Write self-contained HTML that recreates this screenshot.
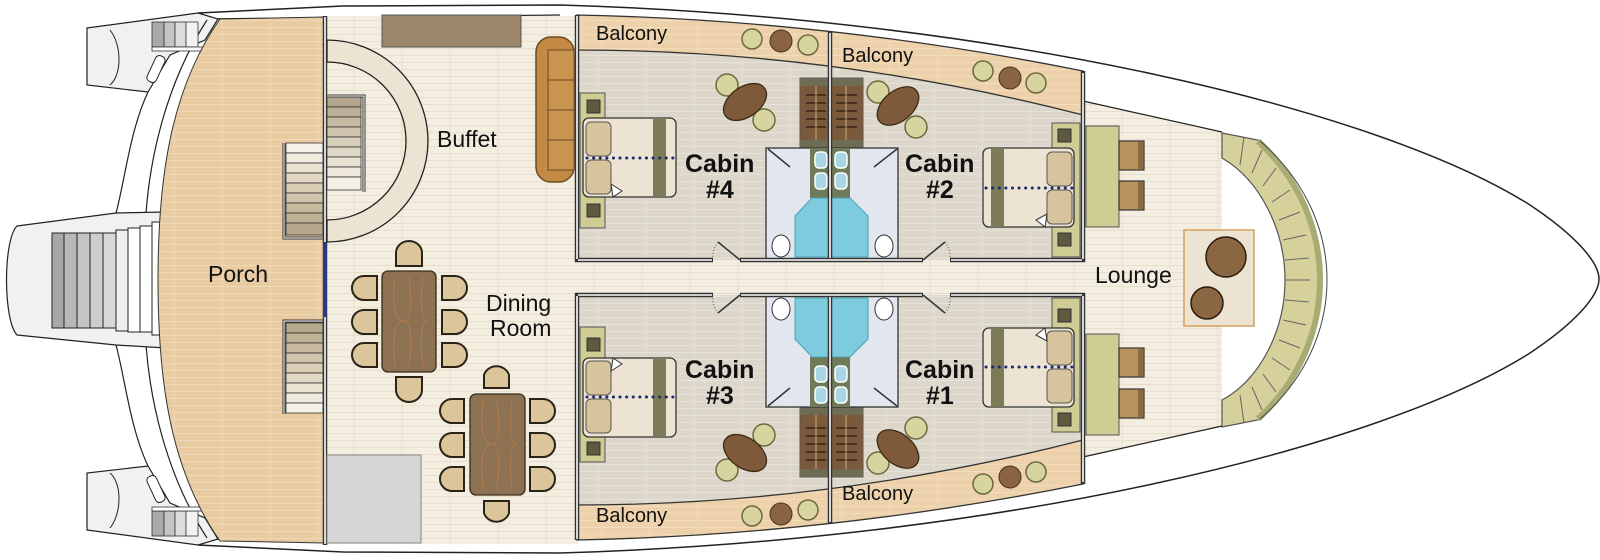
<!DOCTYPE html>
<html><head><meta charset="utf-8"><style>
html,body{margin:0;padding:0;background:#fff;width:1600px;height:560px;overflow:hidden}
svg{display:block}
text{font-family:"Liberation Sans",sans-serif;fill:#111}
</style></head><body>
<svg width="1600" height="560" viewBox="0 0 1600 560" xmlns="http://www.w3.org/2000/svg">
<defs>
<pattern id="cr" width="48" height="7" patternUnits="userSpaceOnUse"><rect width="48" height="7" fill="#f4eee1"/><line x1="0" y1="6.5" x2="48" y2="6.5" stroke="#e7dfcd"/><line x1="18" y1="0" x2="18" y2="7" stroke="#e7dfcd"/></pattern>
<pattern id="pf" width="48" height="7" patternUnits="userSpaceOnUse"><rect width="48" height="7" fill="#e8cba1"/><line x1="0" y1="6.5" x2="48" y2="6.5" stroke="#efd8b6"/><line x1="30" y1="0" x2="30" y2="7" stroke="#efd8b6"/></pattern>
<pattern id="cf" width="48" height="7" patternUnits="userSpaceOnUse"><rect width="48" height="7" fill="#dcd7ca"/><line x1="0" y1="6.5" x2="48" y2="6.5" stroke="#e6e2d8"/><line x1="22" y1="0" x2="22" y2="7" stroke="#e6e2d8"/></pattern>
<pattern id="bf" width="48" height="7" patternUnits="userSpaceOnUse"><rect width="48" height="7" fill="#ecd1aa"/><line x1="0" y1="6.5" x2="48" y2="6.5" stroke="#f2dcbc"/><line x1="26" y1="0" x2="26" y2="7" stroke="#f2dcbc"/></pattern>

<g id="fin">
 <path d="M87,28 L198,13 L218,19 L205,40 L170,55 L148,92 L87,85 Z" fill="#f1f1f1" stroke="#222" stroke-width="1.2"/>
 <path d="M148,92 C130,130 125,180 116,213" fill="none" stroke="#222" stroke-width="1.2"/>
 <path d="M207,20 C165,85 150,160 146,213" fill="none" stroke="#222" stroke-width="1.2"/>
 <path d="M110,30 C122,45 122,75 110,85" fill="none" stroke="#222"/>
 <rect x="152" y="22" width="12" height="25" fill="#aaa" stroke="#333" stroke-width=".8"/>
 <rect x="164" y="22" width="11" height="25" fill="#c4c4c4" stroke="#333" stroke-width=".8"/>
 <rect x="175" y="22" width="11" height="25" fill="#ddd" stroke="#333" stroke-width=".8"/>
 <rect x="186" y="22" width="12" height="25" fill="#f2f2f2" stroke="#333" stroke-width=".8"/>
 <rect x="152" y="47" width="54" height="4" fill="#fff" stroke="#333" stroke-width=".8"/>
 <rect x="151" y="55" width="10" height="28" rx="4" fill="#fff" stroke="#222" transform="rotate(25 156 69)"/>
</g>

<g id="cab">
 <path d="M577,50 Q830,50 1083,115 L1083,260 L577,260 Z" fill="url(#cf)"/>
 <path d="M577,15 Q830,20 1083,71 L1083,115 Q830,50 577,50 Z" fill="url(#bf)" stroke="#333" stroke-width="1.3"/>
 <circle cx="752" cy="39" r="10" fill="#d8d49f" stroke="#6b6a3f" stroke-width="1.5"/>
 <circle cx="781" cy="41" r="11" fill="#8a6344" stroke="#4a3220"/>
 <circle cx="808" cy="45" r="10" fill="#d8d49f" stroke="#6b6a3f" stroke-width="1.5"/>
 <circle cx="983" cy="71" r="10" fill="#d8d49f" stroke="#6b6a3f" stroke-width="1.5"/>
 <circle cx="1010" cy="78" r="11" fill="#8a6344" stroke="#4a3220"/>
 <circle cx="1036" cy="83" r="10" fill="#d8d49f" stroke="#6b6a3f" stroke-width="1.5"/>
 <circle cx="727" cy="85" r="11" fill="#d8d49f" stroke="#6b6a3f" stroke-width="1.5"/>
 <circle cx="764" cy="120" r="11" fill="#d8d49f" stroke="#6b6a3f" stroke-width="1.5"/>
 <ellipse cx="745" cy="102" rx="24" ry="15" transform="rotate(-35 745 102)" fill="#7f5a3a" stroke="#3e2a18" stroke-width="1.3"/>
 <rect x="580" y="93" width="25" height="135" fill="#cfcc94" stroke="#555"/>
 <rect x="587" y="100" width="13" height="13" fill="#5e5a40" stroke="#333"/>
 <rect x="587" y="204" width="13" height="13" fill="#5e5a40" stroke="#333"/>
 <rect x="583" y="118" width="93" height="79" rx="6" fill="#ece3d3" stroke="#333" stroke-width="1.3"/>
 <rect x="653" y="118" width="13" height="79" fill="#7c7b58"/>
 <rect x="586" y="122" width="25" height="34" rx="5" fill="#d8c49c" stroke="#555"/>
 <rect x="586" y="160" width="25" height="34" rx="5" fill="#d8c49c" stroke="#555"/>
 <polygon points="611,184 622,191 613,197" fill="#fff" stroke="#333"/>
 <line x1="587" y1="158" x2="676" y2="158" stroke="#1e2a6e" stroke-width="3" stroke-dasharray="0.1 6.5" stroke-linecap="round"/>
 <circle cx="878" cy="92" r="11" fill="#d8d49f" stroke="#6b6a3f" stroke-width="1.5"/>
 <circle cx="916" cy="127" r="11" fill="#d8d49f" stroke="#6b6a3f" stroke-width="1.5"/>
 <ellipse cx="898" cy="106" rx="24" ry="15" transform="rotate(-40 898 106)" fill="#7f5a3a" stroke="#3e2a18" stroke-width="1.3"/>
 <rect x="1052" y="123" width="28" height="134" fill="#cfcc94" stroke="#555"/>
 <rect x="1058" y="129" width="13" height="13" fill="#5e5a40" stroke="#333"/>
 <rect x="1058" y="233" width="13" height="13" fill="#5e5a40" stroke="#333"/>
 <rect x="983" y="148" width="91" height="79" rx="6" fill="#ece3d3" stroke="#333" stroke-width="1.3"/>
 <rect x="991" y="148" width="13" height="79" fill="#7c7b58"/>
 <rect x="1047" y="152" width="25" height="34" rx="5" fill="#d8c49c" stroke="#555"/>
 <rect x="1047" y="190" width="25" height="34" rx="5" fill="#d8c49c" stroke="#555"/>
 <polygon points="1047,214 1036,220 1045,227" fill="#fff" stroke="#333"/>
 <line x1="986" y1="188" x2="1074" y2="188" stroke="#1e2a6e" stroke-width="3" stroke-dasharray="0.1 6.5" stroke-linecap="round"/>
 <rect x="800" y="78" width="63" height="70" fill="#7a5a3a" stroke="#555"/>
 <rect x="800" y="78" width="63" height="8" fill="#6f6c55"/>
 <rect x="800" y="140" width="63" height="8" fill="#6f6c55"/>
 <g stroke="#2a1a0c" stroke-width="1.2">
  <line x1="806" y1="95" x2="826" y2="95"/><line x1="806" y1="103" x2="826" y2="103"/><line x1="806" y1="111" x2="826" y2="111"/><line x1="806" y1="119" x2="826" y2="119"/><line x1="806" y1="127" x2="826" y2="127"/>
  <line x1="836" y1="95" x2="857" y2="95"/><line x1="836" y1="103" x2="857" y2="103"/><line x1="836" y1="111" x2="857" y2="111"/><line x1="836" y1="119" x2="857" y2="119"/><line x1="836" y1="127" x2="857" y2="127"/>
 </g>
 <line x1="816" y1="86" x2="816" y2="140" stroke="#c9a77a"/><line x1="846" y1="86" x2="846" y2="140" stroke="#c9a77a"/>
 <rect x="766" y="148" width="132" height="111" fill="#e2e6ee" stroke="#333" stroke-width="1.3"/>
 <rect x="810" y="148" width="40" height="50" fill="#6f7a58"/>
 <g fill="#a9d6e4" stroke="#fff" stroke-width="1.5">
  <rect x="815" y="152" width="12" height="16" rx="4"/><rect x="835" y="152" width="12" height="16" rx="4"/>
  <rect x="815" y="173" width="12" height="16" rx="4"/><rect x="835" y="173" width="12" height="16" rx="4"/>
 </g>
 <polygon points="812,198 830,198 830,257 795,257 795,216" fill="#7dcbdc" stroke="#4aa0b5"/>
 <polygon points="830,198 850,198 868,216 868,257 830,257" fill="#7dcbdc" stroke="#4aa0b5"/>
 <ellipse cx="781" cy="246" rx="9" ry="11" fill="#fff" stroke="#333"/>
 <ellipse cx="884" cy="246" rx="9" ry="11" fill="#fff" stroke="#333"/>
 <line x1="768" y1="149" x2="790" y2="167" stroke="#333" stroke-width="1.5"/>
 <line x1="897" y1="149" x2="874" y2="167" stroke="#333" stroke-width="1.5"/>
 <g stroke="#333" stroke-width="4.5">
  <line x1="577" y1="15" x2="577" y2="262"/><line x1="830" y1="31" x2="830" y2="260"/><line x1="1083" y1="71" x2="1083" y2="262"/>
  <line x1="575" y1="260" x2="713" y2="260"/><line x1="740" y1="260" x2="923" y2="260"/><line x1="950" y1="260" x2="1085" y2="260"/>
 </g>
 <g stroke="#fff" stroke-width="1.6">
  <line x1="577" y1="16" x2="577" y2="259"/><line x1="830" y1="33" x2="830" y2="258"/><line x1="1083" y1="73" x2="1083" y2="259"/>
  <line x1="578" y1="260" x2="712" y2="260"/><line x1="741" y1="260" x2="922" y2="260"/><line x1="951" y1="260" x2="1082" y2="260"/>
 </g>
 <line x1="740" y1="260" x2="718" y2="242" stroke="#333" stroke-width="1.5"/>
 <path d="M718,242 Q712,250 713,258" fill="none" stroke="#555" stroke-dasharray="1 2"/>
 <line x1="923" y1="260" x2="945" y2="242" stroke="#333" stroke-width="1.5"/>
 <path d="M945,242 Q951,250 950,258" fill="none" stroke="#555" stroke-dasharray="1 2"/>
</g>
</defs>

<path d="M198,13 L343,6 L560,5 C1000,18 1380,110 1530,205 C1575,235 1599,262 1599,279 C1599,296 1575,323 1530,353 C1380,448 1000,540 560,553 L343,552 L198,545" fill="#fff" stroke="#222" stroke-width="1.5"/>
<path d="M198,19 L560,15" fill="none" stroke="#222" stroke-width="1.2"/>
<path d="M198,539 L560,543" fill="none" stroke="#222" stroke-width="1.2"/>

<rect x="326" y="16" width="252" height="528" fill="url(#cr)"/>
<rect x="577" y="258" width="512" height="42" fill="url(#cr)"/>
<path d="M1083,101 L1222,132 L1222,426 L1083,457 Z" fill="url(#cr)"/>
<path d="M1083,101 L1222,132 M1083,457 L1222,426" stroke="#222" stroke-width="1.2"/>

<use href="#fin"/>
<use href="#fin" transform="matrix(1 0 0 -1 0 558)"/>
<path d="M17,226 L116,213 L166,212 L166,348 L116,345 L17,335 C3,320 3,240 17,226 Z" fill="#f1f1f1" stroke="#222" stroke-width="1.2"/>
<g stroke="#222" stroke-width="1">
 <rect x="52" y="233" width="12" height="95" fill="#a8a8a8"/><rect x="64" y="233" width="13" height="95" fill="#b8b8b8"/>
 <rect x="77" y="233" width="13" height="95" fill="#c4c4c4"/><rect x="90" y="233" width="13" height="95" fill="#cdcdcd"/>
 <rect x="103" y="233" width="13" height="95" fill="#d8d8d8"/><rect x="116" y="230" width="12" height="101" fill="#efefef"/>
 <rect x="128" y="228" width="12" height="104" fill="#fff"/><rect x="140" y="226" width="12" height="106" fill="#fff"/>
 <rect x="152" y="222" width="14" height="113" fill="#fff"/>
</g>

<path d="M220,19 C170,90 158,180 158,280 C158,380 170,470 220,541 L324,543 L324,17 Z" fill="url(#pf)" stroke="#333" stroke-width="1"/>
<g stroke="#333" stroke-width=".8">
 <rect x="286" y="143" width="37" height="10" fill="#f6f2e8"/><rect x="286" y="153" width="37" height="10" fill="#f1ebdd"/>
 <rect x="286" y="163" width="37" height="10" fill="#ebe3d1"/><rect x="286" y="173" width="37" height="10" fill="#e2d8c3"/>
 <rect x="286" y="183" width="37" height="10" fill="#d9ceb6"/><rect x="286" y="193" width="37" height="10" fill="#d0c4aa"/>
 <rect x="286" y="203" width="37" height="10" fill="#c7ba9f"/><rect x="286" y="213" width="37" height="10" fill="#bfb196"/>
 <rect x="286" y="223" width="37" height="12" fill="#b6a88d"/>
 <rect x="286" y="323" width="37" height="10" fill="#b6a88d"/><rect x="286" y="333" width="37" height="10" fill="#bfb196"/>
 <rect x="286" y="343" width="37" height="10" fill="#c7ba9f"/><rect x="286" y="353" width="37" height="10" fill="#d0c4aa"/>
 <rect x="286" y="363" width="37" height="10" fill="#d9ceb6"/><rect x="286" y="373" width="37" height="10" fill="#e2d8c3"/>
 <rect x="286" y="383" width="37" height="10" fill="#ebe3d1"/><rect x="286" y="393" width="37" height="10" fill="#f1ebdd"/>
 <rect x="286" y="403" width="37" height="10" fill="#f6f2e8"/>
</g>
<path d="M284,143 V238 H323 M284,414 V321 H323" fill="none" stroke="#333" stroke-width="3"/>
<path d="M284,143 V238 H323 M284,414 V321 H323" fill="none" stroke="#fff" stroke-width="1"/>

<line x1="325" y1="16" x2="325" y2="545" stroke="#333" stroke-width="4.5"/>
<line x1="325" y1="17" x2="325" y2="544" stroke="#fff" stroke-width="1.6"/>
<line x1="325" y1="242" x2="325" y2="317" stroke="#2a3a8a" stroke-width="3.5"/>

<rect x="382" y="15" width="139" height="32" fill="#9c8669" stroke="#555"/>
<path d="M327,40 A101,101 0 0 1 327,242 L327,220 A79,79 0 0 0 327,62 Z" fill="#ece3d3" stroke="#222" stroke-width="1.3"/>
<g stroke="#333" stroke-width=".8">
 <rect x="327" y="97" width="34" height="10" fill="#b3a68c"/><rect x="327" y="107" width="34" height="10" fill="#bcb096"/>
 <rect x="327" y="117" width="34" height="10" fill="#c6bba2"/><rect x="327" y="127" width="34" height="10" fill="#cfc5ae"/>
 <rect x="327" y="137" width="34" height="10" fill="#d8cfba"/><rect x="327" y="147" width="34" height="10" fill="#e0d8c6"/>
 <rect x="327" y="157" width="34" height="10" fill="#e8e1d2"/><rect x="327" y="167" width="34" height="10" fill="#eee8dc"/>
 <rect x="327" y="177" width="34" height="13" fill="#f4f0e7"/>
</g>
<path d="M327,96 H364 V192" fill="none" stroke="#333" stroke-width="3"/>
<path d="M327,96 H364 V192" fill="none" stroke="#fff" stroke-width="1"/>

<rect x="536" y="37" width="38" height="145" rx="15" fill="#c48a45" stroke="#6b4a20" stroke-width="1.5"/>
<rect x="548" y="50" width="26" height="120" fill="#c99350" stroke="#6b4a20"/>
<g stroke="#6b4a20"><line x1="548" y1="80" x2="574" y2="80"/><line x1="548" y1="110" x2="574" y2="110"/><line x1="548" y1="140" x2="574" y2="140"/></g>

<rect x="327" y="455" width="94" height="88" fill="#d6d6d6" stroke="#888"/>

<g fill="#dcc59b" stroke="#2a2418" stroke-width="2">
 <path d="M377,276 H364 A12,12 0 0 0 364,300 H377 Z"/><path d="M377,310 H364 A12,12 0 0 0 364,334 H377 Z"/><path d="M377,343 H364 A12,12 0 0 0 364,367 H377 Z"/>
 <path d="M442,276 H455 A12,12 0 0 1 455,300 H442 Z"/><path d="M442,310 H455 A12,12 0 0 1 455,334 H442 Z"/><path d="M442,343 H455 A12,12 0 0 1 455,367 H442 Z"/>
 <path d="M396,266 V253 A13,12 0 0 1 422,253 V266 Z"/><path d="M396,377 V390 A13,12 0 0 0 422,390 V377 Z"/>
 <path d="M464,399 H452 A12,12 0 0 0 452,423 H464 Z"/><path d="M464,433 H452 A12,12 0 0 0 452,457 H464 Z"/><path d="M464,467 H452 A12,12 0 0 0 452,491 H464 Z"/>
 <path d="M530,399 H543 A12,12 0 0 1 543,423 H530 Z"/><path d="M530,433 H543 A12,12 0 0 1 543,457 H530 Z"/><path d="M530,467 H543 A12,12 0 0 1 543,491 H530 Z"/>
 <path d="M484,388 V375 A13,12 0 0 1 509,375 V388 Z"/><path d="M484,501 V513 A13,12 0 0 0 509,513 V501 Z"/>
</g>
<rect x="382" y="271" width="54" height="101" rx="6" fill="#8c7252" stroke="#3a2c1a" stroke-width="1.3"/>
<rect x="470" y="394" width="55" height="101" rx="6" fill="#8c7252" stroke="#3a2c1a" stroke-width="1.3"/>
<g fill="none" stroke="#b27a4a" stroke-width="1">
 <path d="M395,276 Q390,321 404,321 Q390,321 395,367 M409,276 Q414,321 404,321 M409,367 Q414,321 404,321 M423,276 Q418,321 428,321 Q418,321 423,367"/>
 <path d="M483,399 Q478,444 492,444 Q478,444 483,490 M497,399 Q502,444 492,444 M497,490 Q502,444 492,444 M512,399 Q507,444 517,444 Q507,444 512,490"/>
</g>

<use href="#cab"/>
<use href="#cab" transform="matrix(1 0 0 -1 0 555)"/>

<path d="M1222,133 L1258,140 C1300,180 1322,230 1322,280 C1322,330 1300,380 1258,420 L1222,427 L1222,400 C1260,380 1285,330 1285,280 C1285,230 1260,180 1222,158 Z" fill="#d6d09a" stroke="#555" stroke-width="1.2"/>
<path d="M1258,141 C1300,180 1320,230 1320,280 C1320,330 1300,380 1258,419" fill="none" stroke="#a8ab72" stroke-width="6"/>
<path d="M1260,141 C1305,180 1327,230 1327,280 C1327,330 1305,380 1260,419" fill="none" stroke="#444" stroke-width="1"/>
<g stroke="#666" stroke-width="1">
 <line x1="1244" y1="137" x2="1240" y2="165"/><line x1="1262" y1="150" x2="1252" y2="173"/><line x1="1276" y1="168" x2="1263" y2="186"/>
 <line x1="1290" y1="190" x2="1272" y2="202"/><line x1="1300" y1="212" x2="1279" y2="220"/><line x1="1306" y1="235" x2="1283" y2="240"/>
 <line x1="1309" y1="258" x2="1285" y2="260"/><line x1="1310" y1="280" x2="1286" y2="280"/><line x1="1309" y1="302" x2="1285" y2="300"/>
 <line x1="1306" y1="325" x2="1283" y2="320"/><line x1="1300" y1="348" x2="1279" y2="340"/><line x1="1290" y1="370" x2="1272" y2="358"/>
 <line x1="1276" y1="392" x2="1263" y2="374"/><line x1="1262" y1="410" x2="1252" y2="387"/><line x1="1244" y1="423" x2="1240" y2="395"/>
</g>
<rect x="1086" y="126" width="33" height="101" fill="#cfcc94" stroke="#555"/>
<rect x="1086" y="334" width="33" height="101" fill="#cfcc94" stroke="#555"/>
<g fill="#b8935e" stroke="#333" stroke-width="1.2">
 <rect x="1119" y="141" width="25" height="29"/><rect x="1119" y="181" width="25" height="29"/>
 <rect x="1119" y="348" width="25" height="29"/><rect x="1119" y="389" width="25" height="29"/>
</g>
<g fill="#8a6a3e"><rect x="1138" y="142" width="5" height="27"/><rect x="1138" y="182" width="5" height="27"/><rect x="1138" y="349" width="5" height="27"/><rect x="1138" y="390" width="5" height="27"/></g>
<rect x="1184" y="230" width="70" height="96" fill="#ece3d3" stroke="#d4a060" stroke-width="1.5"/>
<circle cx="1226" cy="257" r="20" fill="#8a6642" stroke="#2a1a0c" stroke-width="1.5"/>
<circle cx="1207" cy="303" r="16" fill="#8a6642" stroke="#2a1a0c" stroke-width="1.5"/>

<text x="437" y="147" font-size="23">Buffet</text>
<text x="208" y="282" font-size="23">Porch</text>
<text x="486" y="311" font-size="23">Dining</text>
<text x="490" y="336" font-size="23">Room</text>
<text x="1095" y="283" font-size="23">Lounge</text>
<text x="596" y="40" font-size="20">Balcony</text>
<text x="842" y="62" font-size="20">Balcony</text>
<text x="596" y="522" font-size="20">Balcony</text>
<text x="842" y="500" font-size="20">Balcony</text>
<g font-size="25" font-weight="bold">
 <text x="685" y="172">Cabin</text><text x="706" y="198">#4</text>
 <text x="905" y="172">Cabin</text><text x="926" y="198">#2</text>
 <text x="685" y="378">Cabin</text><text x="706" y="404">#3</text>
 <text x="905" y="378">Cabin</text><text x="926" y="404">#1</text>
</g>
</svg>
</body></html>
